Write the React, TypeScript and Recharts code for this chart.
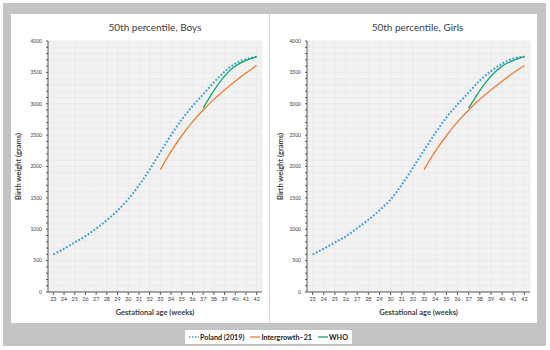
import React from "react";
import { LineChart, Line, XAxis, YAxis, CartesianGrid } from "recharts";

const weeks = [23, 24, 25, 26, 27, 28, 29, 30, 31, 32, 33, 34, 35, 36, 37, 38, 39, 40, 41, 42];
const weightTicks = [
	0, 100, 200, 300, 400, 500, 600, 700, 800, 900, 1000, 1100, 1200, 1300, 1400, 1500, 1600, 1700, 1800, 1900, 2000,
	2100, 2200, 2300, 2400, 2500, 2600, 2700, 2800, 2900, 3000, 3100, 3200, 3300, 3400, 3500, 3600, 3700, 3800, 3900, 4000,
];

const polandBoys = [600, 690, 790, 890, 1010, 1145, 1300, 1480, 1700, 1950, 2230, 2500, 2750, 2960, 3150, 3340, 3510, 3640, 3710, 3750];
const intergrowthBoys = [null, null, null, null, null, null, null, null, null, null, 1950, 2240, 2490, 2710, 2900, 3070, 3220, 3360, 3490, 3610];
const whoBoys = [null, null, null, null, null, null, null, null, null, null, null, null, null, null, 2930, 3210, 3440, 3600, 3690, 3750];

const polandGirls = [600, 690, 790, 890, 1015, 1150, 1300, 1475, 1710, 1980, 2260, 2530, 2780, 2990, 3180, 3370, 3520, 3640, 3720, 3750];
const intergrowthGirls = [null, null, null, null, null, null, null, null, null, null, 1950, 2240, 2490, 2710, 2900, 3070, 3220, 3360, 3490, 3610];
const whoGirls = [null, null, null, null, null, null, null, null, null, null, null, null, null, null, 2930, 3210, 3440, 3600, 3690, 3750];

const seriesNames = ["Poland (2019)", "Intergrowth\u201321", "WHO"];
const seriesColors = ["#3a9fd6", "#ed7d31", "#0fa56c"];

const FONT = "'Liberation Sans Narrow', Lato, 'Noto Sans', sans-serif";

const toRows = (poland: number[], inter: (number | null)[], who: (number | null)[]) =>
	weeks.map((w, i) => ({ week: w, poland: poland[i], inter: inter[i], who: who[i] }));

const boysData = toRows(polandBoys, intergrowthBoys, whoBoys);
const girlsData = toRows(polandGirls, intergrowthGirls, whoGirls);

const yLabel = (dx: number) => (props: any) => {
	const vb = props.viewBox;
	const x = vb.x + dx;
	const y = vb.y + vb.height / 2;
	return (
		<text x={x} y={y} transform={`rotate(-90, ${x}, ${y})`} textAnchor="middle" dominantBaseline="central"
			fontSize={7.5} fontWeight="bold" fill="#404040" fontFamily={FONT}>
			Birth weight (grams)
		</text>
	);
};

const Panel = ({ data, width, yDx }: { data: any[]; width: number; yDx: number }) => (
	<LineChart width={width} height={309} data={data} margin={{ top: 27, right: 7, left: 6, bottom: 8 }}>
		<CartesianGrid fill="#f2f2f2" stroke="#e4e4e4" strokeWidth={0.5} />
		<XAxis
			dataKey="week"
			type="number"
			domain={[22.5, 42.5]}
			ticks={weeks}
			interval={0}
			height={23}
			tickSize={3}
			stroke="#595959"
			tick={{ fontSize: 5.5, fill: "#404040", fontFamily: FONT }}
			label={{ value: "Gestational age (weeks)", position: "insideBottom", offset: 0, fontSize: 7.5, fontWeight: "bold", fill: "#404040", fontFamily: FONT }}
		/>
		<YAxis
			type="number"
			domain={[0, 4000]}
			ticks={weightTicks}
			interval={0}
			width={31}
			tickSize={2}
			tickMargin={4}
			stroke="#595959"
			tickFormatter={(v) => (v % 500 === 0 ? String(v) : "")}
			tick={{ fontSize: 5, fill: "#404040", fontFamily: FONT }}
			label={yLabel(yDx)}
		/>
		<Line dataKey="poland" stroke={seriesColors[0]} strokeWidth={2} strokeDasharray="1.8 1.8" dot={false} isAnimationActive={false} type="monotone" />
		<Line dataKey="inter" stroke={seriesColors[1]} strokeWidth={1.3} dot={false} isAnimationActive={false} type="monotone" />
		<Line dataKey="who" stroke={seriesColors[2]} strokeWidth={1.3} dot={false} isAnimationActive={false} type="monotone" />
	</LineChart>
);

const Title = ({ text, left, width }: { text: string; left: number; width: number }) => (
	<div style={{ position: "absolute", left, top: 20, width, textAlign: "center", fontSize: 10, color: "#404040", fontFamily: FONT, lineHeight: "14px" }}>
		{text}
	</div>
);

export default function App() {
	return (
		<div style={{ position: "absolute", left: 0, top: 0, width: 550, height: 350, background: "#fff", overflow: "hidden" }}>
			<div style={{ position: "absolute", left: 3, top: 3, width: 543, height: 343, background: "#c4c4c4" }} />
			<div style={{ position: "absolute", left: 11, top: 14, width: 526, height: 309, background: "#fff" }} />
			<div style={{ position: "absolute", left: 269, top: 14, width: 1, height: 309, background: "#d4d4d4" }} />
			<div style={{ position: "absolute", left: 11, top: 14 }}>
				<Panel data={boysData} width={258} yDx={1} />
			</div>
			<div style={{ position: "absolute", left: 270, top: 14 }}>
				<Panel data={girlsData} width={267} yDx={4} />
			</div>
			<Title text="50th percentile, Boys" left={48} width={214} />
			<Title text="50th percentile, Girls" left={305} width={225} />
			<div style={{ position: "absolute", left: 185, top: 330, width: 167, height: 14, background: "#fff", display: "flex", alignItems: "center", justifyContent: "center", gap: 6, fontFamily: FONT, fontSize: 7.2, fontWeight: "bold", color: "#222", whiteSpace: "nowrap" }}>
				{seriesNames.map((n, i) => (
					<span key={n} style={{ display: "flex", alignItems: "center", gap: 1 }}>
						<svg width={10} height={4}>
							<line x1={0} y1={2} x2={10} y2={2} stroke={seriesColors[i]} strokeWidth={i === 0 ? 1.6 : 1.3} strokeDasharray={i === 0 ? "1.5 1.5" : undefined} />
						</svg>
						{n}
					</span>
				))}
			</div>
		</div>
	);
}
